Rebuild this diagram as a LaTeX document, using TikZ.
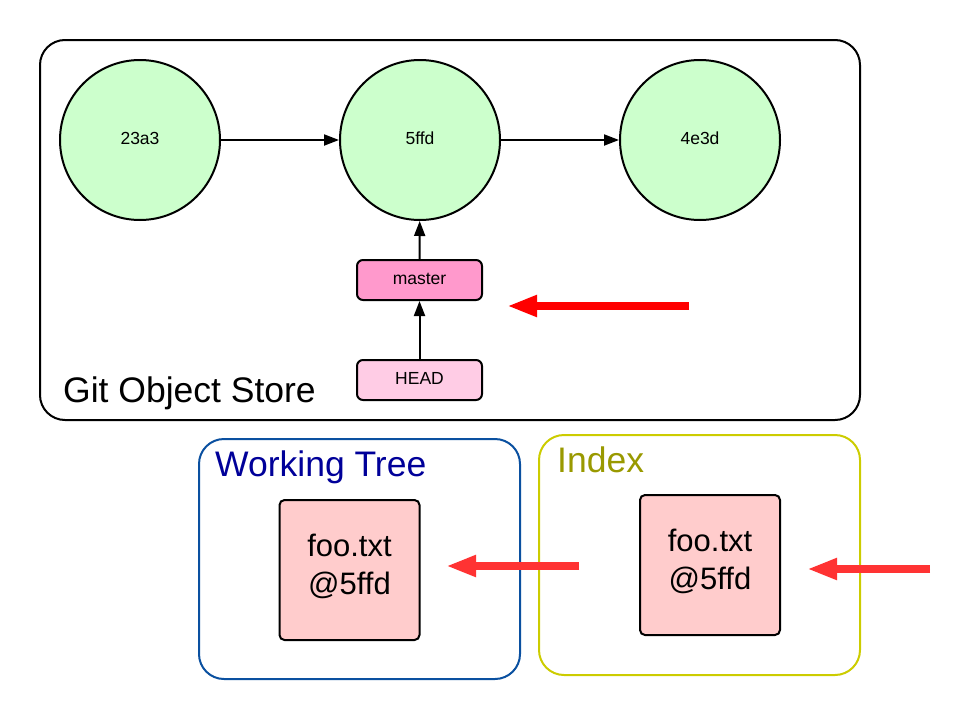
\documentclass[tikz,border=0pt]{standalone}
\usepackage{fontspec}
\setmainfont{Liberation Sans}
\usetikzlibrary{arrows.meta}
\definecolor{cgreen}{HTML}{CCFFCC}
\definecolor{cmaster}{HTML}{FF99CC}
\definecolor{chead}{HTML}{FFCCE5}
\definecolor{cfile}{HTML}{FFCCCC}
\definecolor{cwtborder}{HTML}{0A50A0}
\definecolor{cwttext}{HTML}{000099}
\definecolor{cidxborder}{HTML}{CCCC00}
\definecolor{cidxtext}{HTML}{999900}
\definecolor{cred}{HTML}{FF0000}
\definecolor{cred2}{HTML}{FF3333}
\begin{document}
\begin{tikzpicture}[x=1pt,y=-1pt,
  commit/.style={circle, draw=black, line width=2pt, fill=cgreen, minimum size=160pt, inner sep=0pt, text depth=4pt, font=\fontsize{17.5}{20}\selectfont},
  refbox/.style={rectangle, rounded corners=6pt, draw=black, line width=2pt, minimum width=125pt, minimum height=40pt, inner sep=0pt, text depth=3pt, font=\fontsize{17.5}{20}\selectfont},
  filebox/.style={rectangle, rounded corners=5pt, draw=black, line width=2pt, fill=cfile, minimum width=140pt, minimum height=140pt, inner sep=0pt, align=center, text depth=12pt, font=\fontsize{31}{38}\selectfont},
  area/.style={rectangle, rounded corners=25pt, line width=2pt, inner sep=0pt},
  bigtext/.style={inner sep=0pt, font=\fontsize{35.5}{40}\selectfont},
  blackarrow/.style={line width=2pt, -{Triangle[length=15pt,width=11pt]}},
  redarrow/.style={line width=8pt, -{Triangle[length=30pt,width=20pt]}},
]
\useasboundingbox (0,0) rectangle (971,720);
% areas
\node[area, draw=black, minimum width=820pt, minimum height=380pt] (gos) at (450,230) {};
\node[area, draw=cwtborder, minimum width=321pt, minimum height=240pt] (wt) at (359.5,559) {};
\node[area, draw=cidxborder, minimum width=321pt, minimum height=240pt] (idx) at (699.5,555) {};
% titles
\node[bigtext, anchor=base west] (gost) at (63,402) {Git Object Store};
\node[bigtext, anchor=base west, text=cwttext] (wtt) at (215,476) {Working Tree};
\node[bigtext, anchor=base west, text=cidxtext] (idxt) at (557,472) {Index};
% commits
\node[commit] (c1) at (140,140) {23a3};
\node[commit] (c2) at (420,140) {5ffd};
\node[commit] (c3) at (700,140) {4e3d};
% refs
\node[refbox, fill=cmaster] (master) at (419.5,280) {master};
\node[refbox, fill=chead] (head) at (419.5,380) {HEAD};
% files
\node[filebox] (fwt) at (349.5,570) {foo.txt\\@5ffd};
\node[filebox] (fidx) at (710,565) {foo.txt\\@5ffd};
% black arrows
\draw[blackarrow] (c1) -- (c2);
\draw[blackarrow] (c2) -- (c3);
\draw[blackarrow] (master) -- (c2);
\draw[blackarrow] (head) -- (master);
% red arrows
\coordinate (r1s) at (689,306);
\coordinate (r1e) at (507,306);
\coordinate (r2s) at (579,566);
\coordinate (r2e) at (446,566);
\coordinate (r3s) at (930,569);
\coordinate (r3e) at (807,569);
\draw[redarrow, draw=cred, fill=cred] (r1s) -- (r1e);
\draw[redarrow, draw=cred2, fill=cred2] (r2s) -- (r2e);
\draw[redarrow, draw=cred2, fill=cred2] (r3s) -- (r3e);
\end{tikzpicture}
\end{document}
